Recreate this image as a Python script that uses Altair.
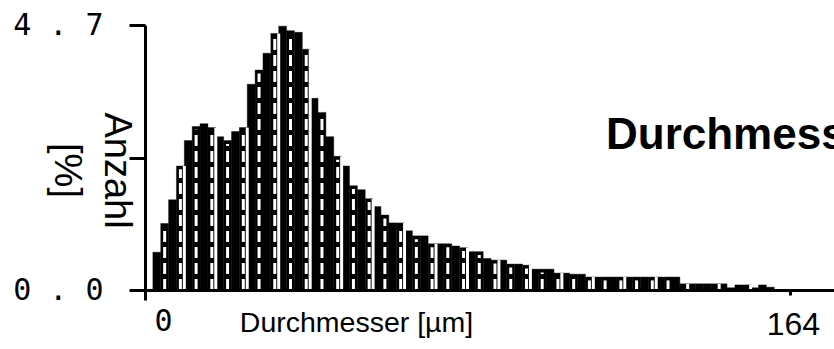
import altair as alt
import pandas as pd

# Histogram: Anzahl [%] per diameter class (2 µm classes starting at 2 µm)
bin_start_um = 2.0
bin_width_um = 2.0
anzahl_pct = [
    0.67, 1.18, 1.60, 2.20, 2.65, 2.90, 2.95, 2.88, 2.72, 2.65,
    2.81, 2.88, 3.65, 3.90, 4.20, 4.55, 4.68, 4.60, 4.57, 4.27,
    3.40, 3.15, 2.72, 2.37, 2.20, 1.85, 1.78, 1.62, 1.48, 1.33,
    1.19, 1.19, 1.05, 0.96, 0.96, 0.82, 0.82, 0.82, 0.78, 0.75,
    0.68, 0.68, 0.56, 0.53, 0.53, 0.46, 0.46, 0.44, 0.37, 0.37,
    0.37, 0.30, 0.30, 0.28, 0.28, 0.23, 0.23, 0.23, 0.23, 0.23,
    0.23, 0.23, 0.23, 0.23, 0.23, 0.23, 0.23, 0.11, 0.11, 0.11,
    0.11, 0.11, 0.11, 0.04, 0.09, 0.09, 0.04, 0.09, 0.05,
]
y_ticks = [0, 2.35, 4.7]
x_ticks = [0, 164]
x_max = 175.2
y_max = 4.7

rows = []
for i, v in enumerate(anzahl_pct):
    x0 = bin_start_um + i * bin_width_um
    rows.append({
        "x0": x0,
        "x1": x0 + bin_width_um,
        "xc": x0 + bin_width_um / 2,
        "v": v,
        "base": 0.0,
        "stripe_top": max(v - 0.06, 0.0),
        "stripe": (i % 2 == 1) and v > 0.15,
        "gap": (i % 4 == 3),
    })
df = pd.DataFrame(rows)

xscale = alt.Scale(domain=[0, x_max], nice=False, zero=True)
yscale = alt.Scale(domain=[0, y_max], nice=False)

x_axis = alt.Axis(
    values=x_ticks,
    grid=False,
    domainColor="black", domainWidth=3,
    tickColor="black", tickWidth=3,
    tickSize={"condition": {"test": "datum.value == 0", "value": 10}, "value": 5},
    labelFlush=False,
    labelColor="black",
    labelFont={"condition": {"test": "datum.value == 0", "value": "DejaVu Sans Mono"}, "value": "Liberation Sans"},
    labelFontSize={"condition": {"test": "datum.value == 0", "value": 30}, "value": 32},
    labelOffset={"condition": {"test": "datum.value == 0", "value": 18}, "value": 3},
    labelPadding={"condition": {"test": "datum.value == 0", "value": 6}, "value": 14},
    title="Durchmesser [µm]",
    titleFont="Liberation Sans", titleFontSize=28.5, titleFontWeight="normal",
    titleColor="black",
    titleX=211, titleY=41, titleAlign="center", titleBaseline="alphabetic",
    zindex=1,
)

y_axis = alt.Axis(
    values=y_ticks,
    grid=False,
    labelExpr="datum.value == 0 ? '0 . 0' : (datum.value > 4.6 ? '4 . 7' : '')",
    labelFont="DejaVu Sans Mono", labelFontSize=30, labelColor="black",
    labelBaseline="middle",
    labelPadding=26,
    tickSize=16, tickWidth=3, tickColor="black",
    domainColor="black", domainWidth=3,
    title=["Anzahl", "[%]"],
    titleFont="Liberation Sans", titleFontSize=38, titleFontWeight="normal",
    titleColor="black",
    titleAngle=90, titleX=-11, titleY=145, titleAlign="center",
    titleBaseline="top", titleLineHeight=50,
    zindex=1,
)

base = alt.Chart(df)

bars = base.mark_bar(color="black", stroke="black", strokeWidth=0.4).encode(
    x=alt.X("x0:Q", scale=xscale, axis=x_axis),
    x2="x1:Q",
    y=alt.Y("v:Q", scale=yscale, axis=y_axis),
    y2="base:Q",
)

stripes = base.transform_filter("datum.stripe").mark_rule(
    color="white", strokeWidth=3, strokeDash=[11, 5]
).encode(
    x=alt.X("xc:Q", scale=xscale),
    y=alt.Y("base:Q", scale=yscale),
    y2="stripe_top:Q",
)

gaps = base.transform_filter("datum.gap").mark_rule(
    color="white", strokeWidth=3
).encode(
    x=alt.X("x1:Q", scale=xscale),
    y=alt.Y("base:Q", scale=yscale),
    y2="v:Q",
)

title_txt = alt.Chart(pd.DataFrame({"t": ["Durchmesser"]})).mark_text(
    font="Liberation Sans", fontSize=44, fontWeight="bold", color="black",
    align="left", baseline="alphabetic",
).encode(
    x=alt.value(461), y=alt.value(124), text="t:N"
)

chart = alt.layer(bars, stripes, gaps, title_txt).properties(
    width=689, height=265,
    autosize=alt.AutoSizeParams(type="none"),
    padding={"left": 145, "top": 25, "right": 0, "bottom": 59},
    background="white",
).configure_view(stroke=None)

chart.save("out.html", embed_options={"renderer": "svg", "actions": False})
